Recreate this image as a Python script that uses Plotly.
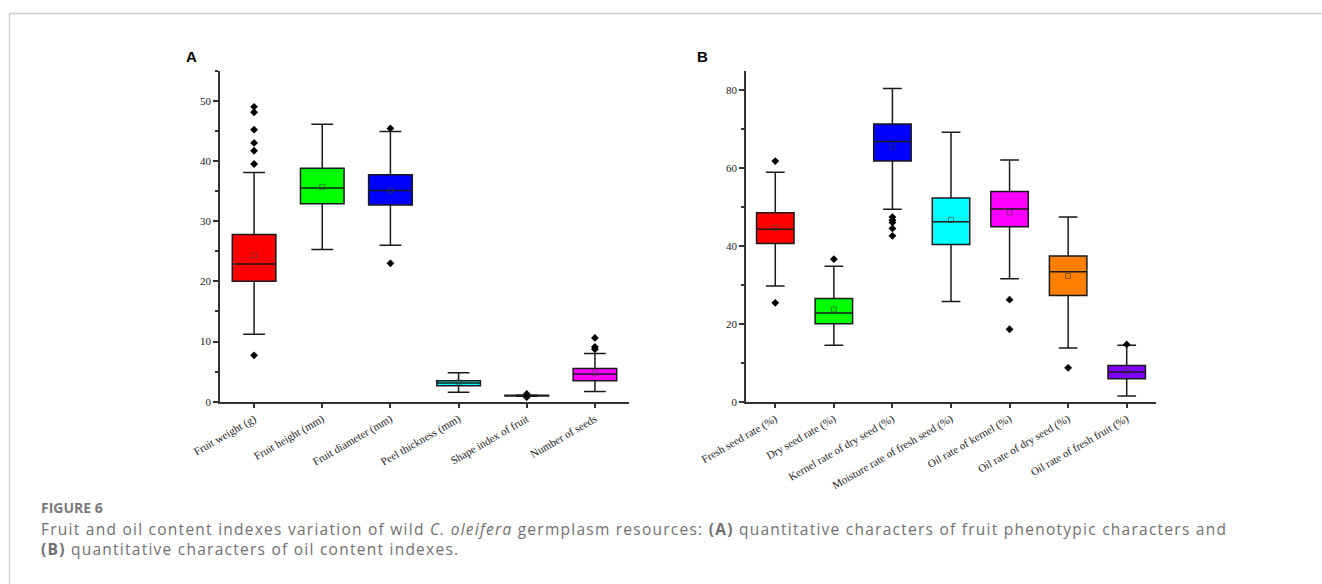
import plotly.graph_objects as go

# ---------------- Data: panel A (fruit phenotypic characters) ----------------
a_cats = ["Fruit weight (g)", "Fruit height (mm)", "Fruit diameter (mm)",
          "Peel thickness (mm)", "Shape index of fruit", "Number of seeds"]
a_q1 = [20.0, 32.9, 32.7, 2.65, 0.95, 3.5]
a_med = [22.9, 35.5, 35.1, 3.1, 1.0, 4.6]
a_q3 = [27.8, 38.8, 37.7, 3.5, 1.07, 5.5]
a_low = [11.2, 25.3, 26.0, 1.55, 0.9, 1.7]
a_high = [38.1, 46.1, 44.9, 4.8, 1.12, 8.0]
a_mean = [24.3, 35.7, 35.1, 3.2, 1.0, 4.7]
a_out = [[49.0, 48.1, 45.2, 43.0, 41.7, 39.5, 7.7], [], [45.4, 23.0], [],
         [1.3, 0.75], [10.6, 9.1, 8.7]]
a_colors = ["#ff0000", "#00ff00", "#0000ff", "#00ffff", "#000000", "#ff00ff"]

# ---------------- Data: panel B (oil content indexes) ----------------
b_cats = ["Fresh seed rate (%)", "Dry seed rate (%)", "Kernel rate of dry seed (%)",
          "Moisture rate of fresh seed (%)", "Oil rate of kernel (%)",
          "Oil rate of dry seed (%)", "Oil rate of fresh fruit (%)"]
b_q1 = [40.6, 20.0, 61.8, 40.4, 44.9, 27.3, 5.9]
b_med = [44.3, 22.8, 66.8, 46.2, 49.5, 33.4, 7.6]
b_q3 = [48.5, 26.5, 71.3, 52.3, 54.0, 37.4, 9.3]
b_low = [29.7, 14.5, 49.4, 25.7, 31.6, 13.8, 1.45]
b_high = [58.9, 34.8, 80.4, 69.2, 62.1, 47.4, 14.5]
b_mean = [44.6, 23.7, 65.5, 46.7, 48.6, 32.3, 7.8]
b_out = [[61.8, 25.4], [36.6], [47.4, 46.6, 46.0, 44.5, 42.6], [],
         [26.2, 18.6], [8.7], [14.7]]
b_colors = ["#ff0000", "#00ff00", "#0000ff", "#00ffff", "#ff00ff", "#ff8000", "#7f00ff"]

caption_title = "FIGURE 6"
caption_line1 = ("Fruit and oil content indexes variation of wild <i>C. oleifera</i> germplasm resources: "
                 "<b>(A)</b> quantitative characters of fruit phenotypic characters and")
caption_line2 = "<b>(B)</b> quantitative characters of oil content indexes."

W, H = 1322, 584
fig = go.Figure()


def add_panel(cats, q1, med, q3, low, high, mean, outs, colors, xa, ya):
    for i, c in enumerate(cats):
        fig.add_trace(go.Box(
            x=[c], q1=[q1[i]], median=[med[i]], q3=[q3[i]],
            lowerfence=[low[i]], upperfence=[high[i]],
            fillcolor=colors[i], line=dict(color="#1a1a1a", width=1.5),
            width=0.64, whiskerwidth=0.5, boxpoints=False,
            xaxis=xa, yaxis=ya, showlegend=False, hoverinfo="skip"))
        if outs[i]:
            fig.add_trace(go.Scatter(
                x=[c] * len(outs[i]), y=outs[i], mode="markers",
                marker=dict(symbol="diamond", size=6, color="#000000"),
                xaxis=xa, yaxis=ya, showlegend=False, hoverinfo="skip"))
    fig.add_trace(go.Scatter(
        x=cats, y=mean, mode="markers",
        marker=dict(symbol="square-open", size=5, color="rgba(60,60,60,0.6)",
                    line=dict(width=1)),
        xaxis=xa, yaxis=ya, showlegend=False, hoverinfo="skip"))


add_panel(a_cats, a_q1, a_med, a_q3, a_low, a_high, a_mean, a_out, a_colors, "x", "y")
add_panel(b_cats, b_q1, b_med, b_q3, b_low, b_high, b_mean, b_out, b_colors, "x2", "y2")

tick_font = dict(family="Liberation Serif", size=11, color="#222222")
ax_common = dict(showline=True, linecolor="#333333", linewidth=1.5, showgrid=False,
                 zeroline=False, ticks="outside", ticklen=5, tickwidth=1.5,
                 tickcolor="#333333", tickfont=tick_font, automargin=False)

y_bot = 1 - 401.7 / H
y_top = 1 - 70.7 / H

fig.update_layout(
    template="none",
    width=W, height=H, margin=dict(l=0, r=0, t=0, b=0, autoexpand=False),
    paper_bgcolor="white", plot_bgcolor="white",
    xaxis=dict(domain=[220 / W, 629 / W], anchor="y", type="category",
               range=[-0.5, 5.5], tickangle=-30, **ax_common),
    yaxis=dict(domain=[y_bot, y_top], anchor="x", range=[0, 55], dtick=10,
               minor=dict(dtick=5, ticks="outside", ticklen=3, tickcolor="#333333"),
               **ax_common),
    xaxis2=dict(domain=[746 / W, 1156 / W], anchor="y2", type="category",
                range=[-0.5, 6.5], tickangle=-30, **ax_common),
    yaxis2=dict(domain=[y_bot, y_top], anchor="x2", range=[0, 85], dtick=20,
                minor=dict(dtick=10, ticks="outside", ticklen=3, tickcolor="#333333"),
                **ax_common),
)

annots = [
    dict(text="<b>A</b>", x=191.7 / W, y=1 - 56.7 / H,
         font=dict(family="Liberation Sans", size=15, color="#000")),
    dict(text="<b>B</b>", x=702.7 / W, y=1 - 56.7 / H,
         font=dict(family="Liberation Sans", size=15, color="#000")),
]
for a in annots:
    a.update(xref="paper", yref="paper", showarrow=False, xanchor="center", yanchor="middle")
    fig.add_annotation(**a)

fig.add_annotation(text="<b>" + caption_title + "</b>", xref="paper", yref="paper",
                   x=39 / W, y=1 - 507 / H, xanchor="left", yanchor="middle",
                   showarrow=False, font=dict(family="Open Sans", size=14, color="#7a7a7a"))
fig.add_annotation(
    text=('<span style="letter-spacing:1.25px">' + caption_line1 + "</span><br>"
          '<span style="letter-spacing:1.25px">' + caption_line2 + "</span>"),
    xref="paper", yref="paper", x=39 / W, y=1 - 539 / H,
    xanchor="left", yanchor="middle", align="left", showarrow=False,
    font=dict(family="Open Sans", size=15.5, color="#707070"))

# frame lines (top and left)
fig.add_shape(type="line", xref="paper", yref="paper", x0=9.5 / W, x1=1, y0=1 - 13.5 / H,
              y1=1 - 13.5 / H, line=dict(color="#d0d0d0", width=1.5))
fig.add_shape(type="line", xref="paper", yref="paper", x0=9.5 / W, x1=9.5 / W, y0=0,
              y1=1 - 13.5 / H, line=dict(color="#d0d0d0", width=1.5))

fig.write_html("out.html", config={"displayModeBar": False},
               post_script="document.body.style.margin='0';document.body.style.overflow='hidden';")
